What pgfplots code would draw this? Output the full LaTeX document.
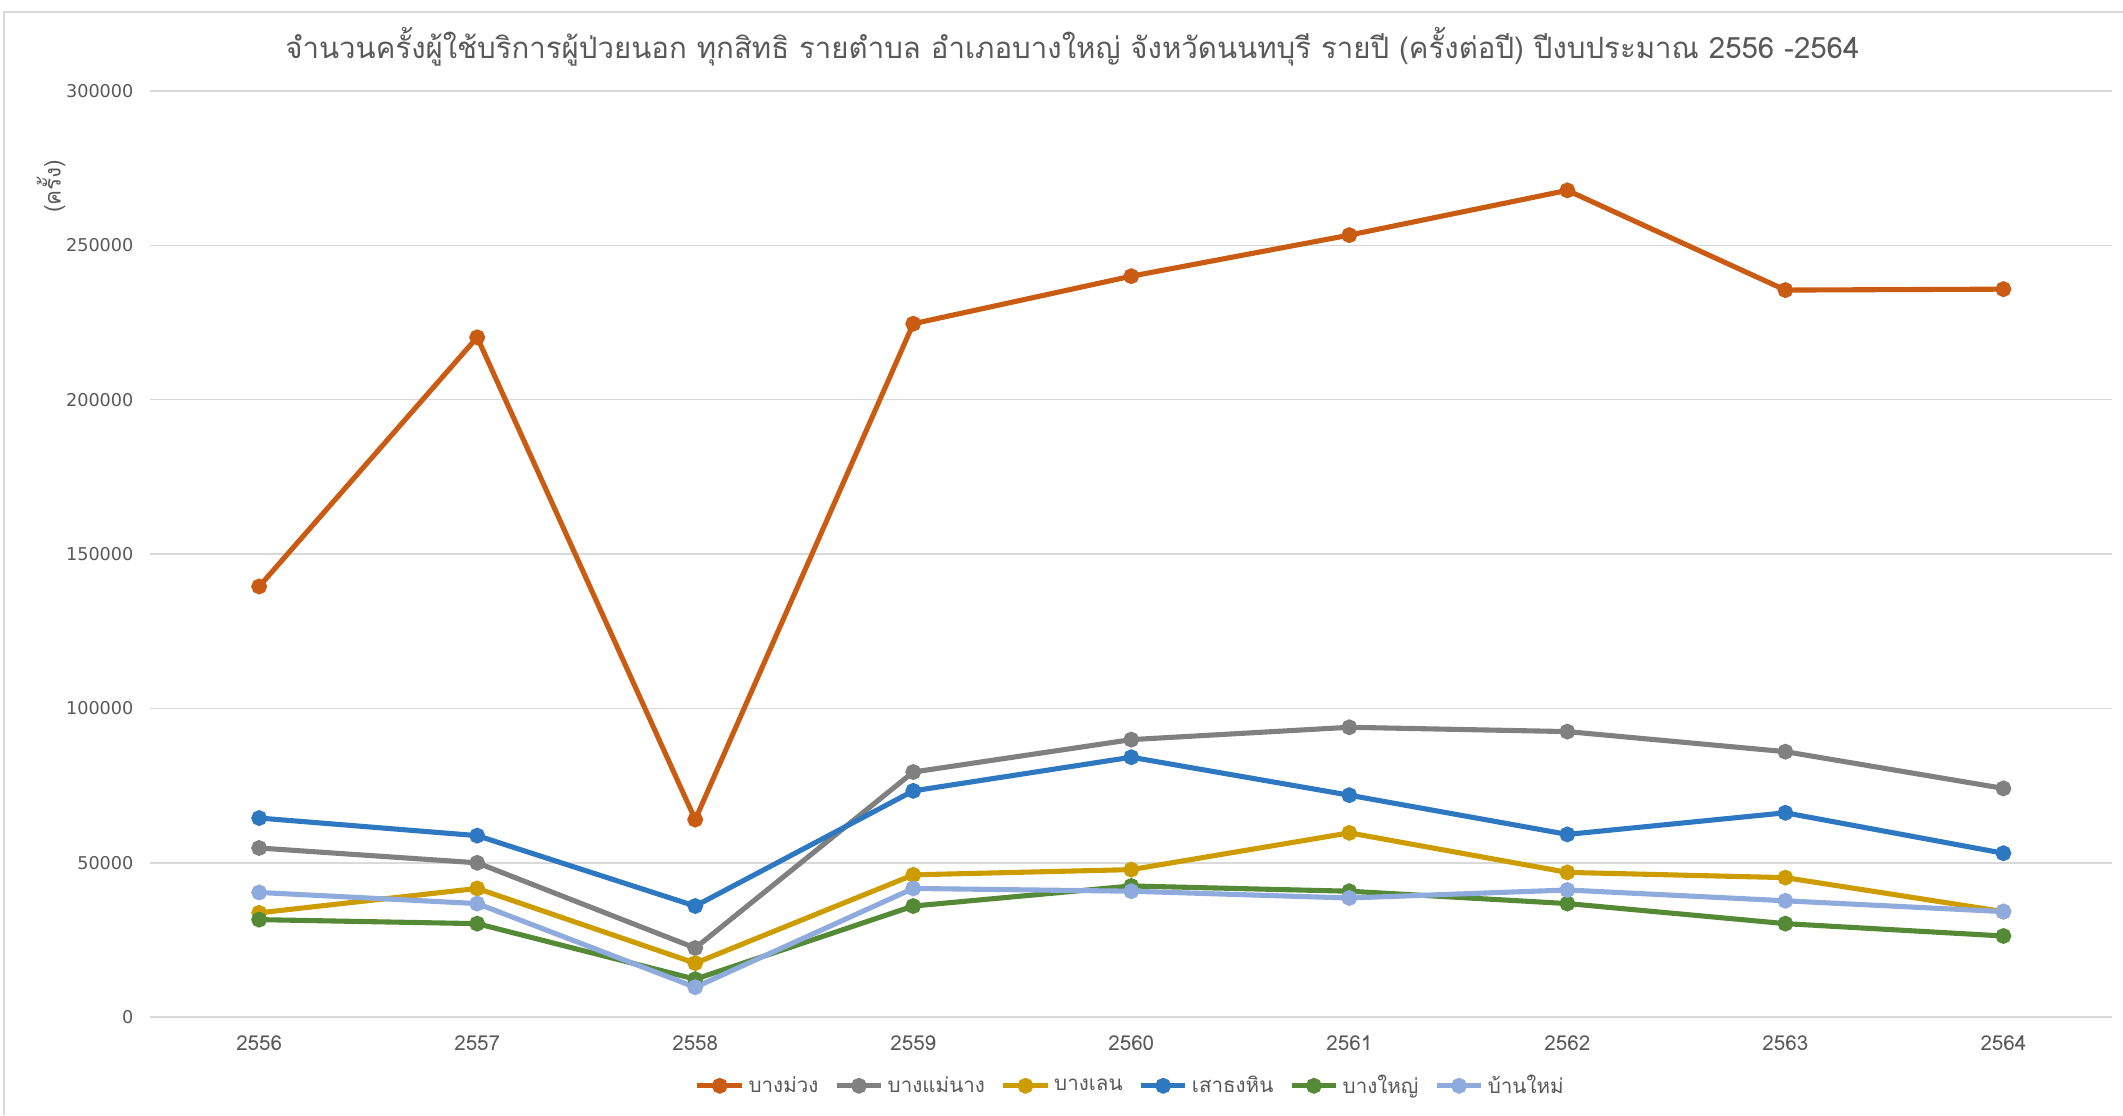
\documentclass[border=0pt]{standalone}
\usepackage{fontspec}
\setmainfont{Loma}[Script=Thai]
\newfontfamily\numfont{DejaVu Sans}
\usepackage{pgfplots}
\pgfplotsset{compat=1.18}
\definecolor{cOrange}{HTML}{C95B13}
\definecolor{cGray}{HTML}{808080}
\definecolor{cGold}{HTML}{CC9C00}
\definecolor{cBlue}{HTML}{2E78C2}
\definecolor{cGreen}{HTML}{548A36}
\definecolor{cLBlue}{HTML}{8FAADC}
\definecolor{txt}{HTML}{595959}
\definecolor{gridc}{HTML}{D9D9D9}
\begin{document}
\begin{tikzpicture}
\begin{axis}[
  scale only axis, width=1001pt, height=472.5pt,
  xmin=-0.5, xmax=8.5, ymin=0, ymax=300000,
  xtick={0,1,2,3,4,5,6,7,8},
  xticklabels={2556,2557,2558,2559,2560,2561,2562,2563,2564},
  ytick={0,50000,100000,150000,200000,250000,300000},
  scaled y ticks=false,
  /pgf/number format/assume math mode=true,
  yticklabel style={/pgf/number format/fixed,/pgf/number format/1000 sep={},font=\fontsize{9}{10}\selectfont\numfont,text=txt,xshift=-5pt},
  xticklabel style={font=\fontsize{10.5}{11}\selectfont,text=txt,yshift=-6pt},
  major tick length=0pt,
  axis line style={draw=none},
  ymajorgrids, grid style={gridc, line width=0.75pt},
  every axis plot/.append style={line width=2.6pt, mark=*, mark size=2.7pt, mark options={solid}},
  legend style={at={(0.5,0)}, anchor=center, yshift=-35pt, draw=none, font=\fontsize{10.5}{12}\selectfont, text=txt, /tikz/every even column/.append style={column sep=6pt}},
  legend columns=6,
  legend image code/.code={\draw[mark repeat=2,mark phase=2,#1] plot coordinates {(0cm,0cm)(0.4cm,0cm)(0.8cm,0cm)};},
]
\addplot[cOrange, mark options={fill=cOrange}] coordinates {(0,139500)(1,220200)(2,64000)(3,224600)(4,240000)(5,253300)(6,267800)(7,235500)(8,235800)};
\addlegendentry{บางม่วง}
\addplot[cGray, mark options={fill=cGray}] coordinates {(0,54800)(1,50000)(2,22400)(3,79400)(4,89900)(5,93900)(6,92500)(7,86000)(8,74100)};
\addlegendentry{บางแม่นาง}
\addplot[cGold, mark options={fill=cGold}] coordinates {(0,33800)(1,41700)(2,17500)(3,46100)(4,47800)(5,59700)(6,46900)(7,45200)(8,34200)};
\addlegendentry{บางเลน}
\addplot[cBlue, mark options={fill=cBlue}] coordinates {(0,64500)(1,58800)(2,36000)(3,73300)(4,84200)(5,71900)(6,59200)(7,66200)(8,53100)};
\addlegendentry{เสาธงหิน}
\addplot[cGreen, mark options={fill=cGreen}] coordinates {(0,31600)(1,30300)(2,12300)(3,36000)(4,42500)(5,40800)(6,36800)(7,30300)(8,26300)};
\addlegendentry{บางใหญ่}
\addplot[cLBlue, mark options={fill=cLBlue}] coordinates {(0,40400)(1,36800)(2,9700)(3,41700)(4,40800)(5,38600)(6,41200)(7,37700)(8,34200)};
\addlegendentry{บ้านใหม่}
\end{axis}
\node[font=\fontsize{15}{17}\selectfont, text=txt] at ([shift={(470.4pt,22.4pt)}]current axis.north west) {จำนวนครั้งผู้ใช้บริการผู้ป่วยนอก ทุกสิทธิ รายตำบล อำเภอบางใหญ่ จังหวัดนนทบุรี รายปี (ครั้งต่อปี) ปีงบประมาณ 2556 -2564};
\node[rotate=90, font=\fontsize{11.5}{12}\selectfont, text=txt] at ([shift={(-50.6pt,-48.6pt)}]current axis.north west) {(ครั้ง)};
\draw[gridc, line width=1pt] ([shift={(-74.6pt,-522.6pt)}]current axis.north west) -- ([shift={(-74.6pt,40.4pt)}]current axis.north west) -- ([shift={(1006.4pt,40.4pt)}]current axis.north west);
\pgfresetboundingbox
\path ([shift={(-76.6pt,46.4pt)}]current axis.north west) rectangle ++(1083pt,-569pt);
\end{tikzpicture}
\end{document}
